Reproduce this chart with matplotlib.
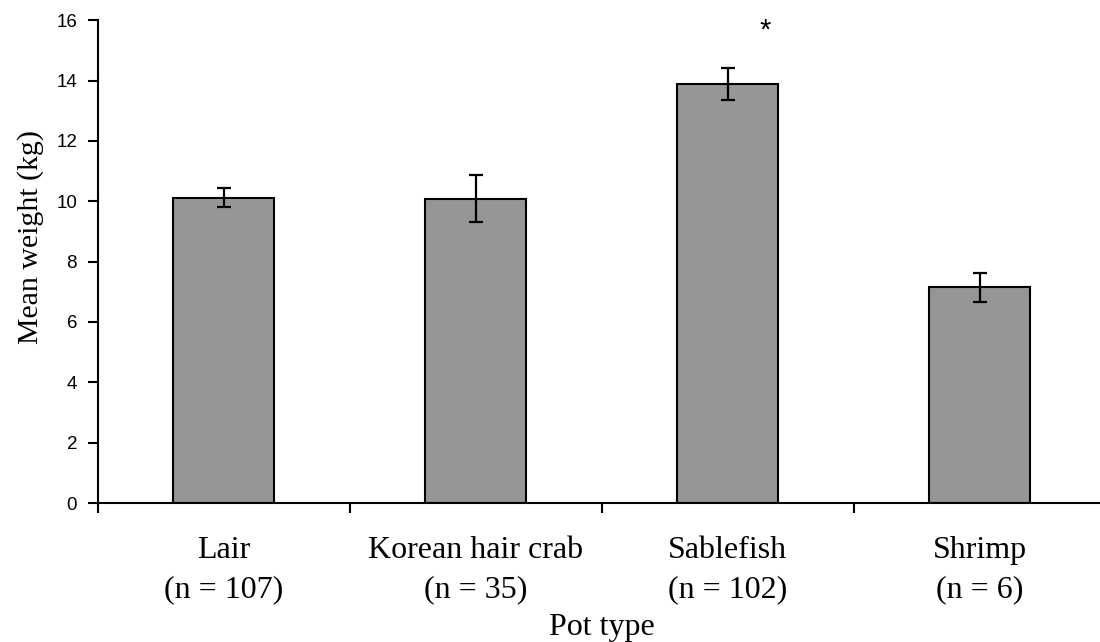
import numpy as np
import matplotlib.pyplot as plt

pot_types = ["Lair", "Korean hair crab", "Sablefish", "Shrimp"]
n_counts = [107, 35, 102, 6]
mean_weight = [10.12, 10.08, 13.9, 7.15]
std_err = [0.32, 0.78, 0.53, 0.48]

fig = plt.figure(figsize=(11, 6.42), dpi=100)
ax = fig.add_axes([0.089, 0.2165, 0.916, 0.752])

x = np.arange(len(pot_types))
ax.bar(x, mean_weight, width=0.4, color="#969696", edgecolor="black", linewidth=1.5, zorder=2)
ax.errorbar(x, mean_weight, yerr=std_err, fmt="none", ecolor="black",
            elinewidth=1.6, capsize=4.8, capthick=1.6, zorder=3)

# significance mark over sablefish
ax.text(2.15, 15.65, "*", ha="center", va="center", fontsize=21, family="Liberation Sans")

ax.set_xlim(-0.5, 3.5)
ax.set_ylim(0, 16)
ax.set_yticks(range(0, 17, 2))

# category boundaries as ticks, names as minor labels
ax.set_xticks([-0.5, 0.5, 1.5, 2.5, 3.5])
ax.set_xticklabels([])
ax.set_xticks(x, minor=True)
ax.set_xticklabels([f"{p}\n(n = {n})" for p, n in zip(pot_types, n_counts)], minor=True,
                   family="Liberation Serif", fontsize=23, linespacing=1.45)
ax.tick_params(axis="x", which="minor", length=0, pad=24)
ax.tick_params(axis="x", which="major", length=7, width=1.5, direction="out")
ax.tick_params(axis="y", length=7, width=1.5, direction="out", labelsize=13.5, pad=8)
for lab in ax.get_yticklabels():
    lab.set_family("Liberation Sans")

for s in ["top", "right"]:
    ax.spines[s].set_visible(False)
for s in ["left", "bottom"]:
    ax.spines[s].set_linewidth(1.5)

ax.set_ylabel("Mean weight (kg)", family="Liberation Serif", fontsize=21.5)
ax.yaxis.set_label_coords(-0.053, 0.55)
ax.set_xlabel("Pot type", family="Liberation Serif", fontsize=23, labelpad=6)

fig.savefig("out.png", dpi=100)
